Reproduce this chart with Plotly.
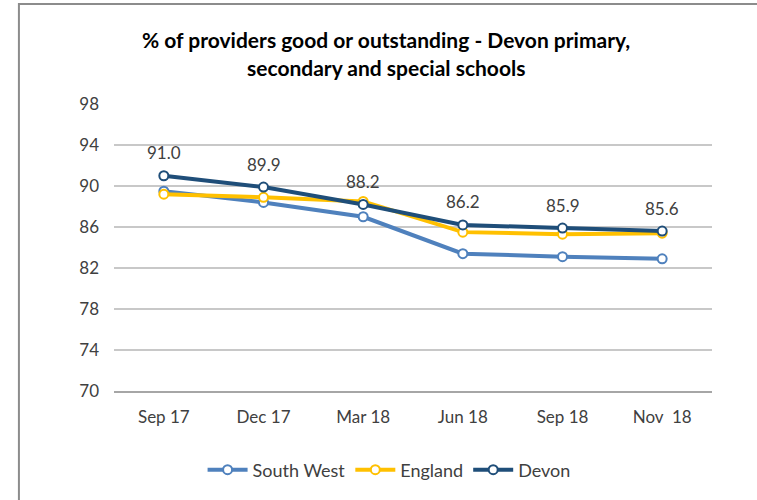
import plotly.graph_objects as go

# Inspection dates and share of providers rated good or outstanding (%)
periods = ["Sep 17", "Dec 17", "Mar 18", "Jun 18", "Sep 18", "Nov  18"]
south_west = [89.5, 88.4, 87.0, 83.4, 83.1, 82.9]
england = [89.2, 88.9, 88.5, 85.5, 85.3, 85.4]
devon = [91.0, 89.9, 88.2, 86.2, 85.9, 85.6]
y_ticks = [70, 74, 78, 82, 86, 90, 94, 98]
title_lines = ["% of providers good or outstanding - Devon primary,",
               "secondary and special schools"]

FONT = "Lato, Liberation Sans, sans-serif"

series = [
    ("South West", south_west, "#4F81BD"),
    ("England", england, "#FFC000"),
    ("Devon", devon, "#1F4E79"),
]

fig = go.Figure()
for name, values, color in series:
    fig.add_trace(go.Scatter(
        x=periods, y=values, name=name, mode="lines+markers",
        line=dict(color=color, width=4),
        marker=dict(symbol="circle", size=9, color="white",
                    line=dict(color=color, width=2)),
        hoverinfo="x+y+name",
    ))

# Value labels above the Devon series
for p, v in zip(periods, devon):
    fig.add_annotation(x=p, y=v, text=f"{v:.1f}", showarrow=False,
                       yshift=23, font=dict(family=FONT, size=17, color="#404040"))

# Two-line bold title
for line, ypos in zip(title_lines, [1.2230, 1.1289]):
    fig.add_annotation(xref="paper", yref="paper", x=0.455, y=ypos,
                       xanchor="center", yanchor="middle", showarrow=False,
                       text=f"<b>{line}</b>",
                       font=dict(family=FONT, size=21, color="#000000"))

# Chart frame
fig.add_shape(type="rect", xref="paper", yref="paper",
              x0=-0.159, x1=1.08, y0=-0.40, y1=1.3484,
              line=dict(color="#8C8C8C", width=2), layer="below")

fig.update_layout(
    width=757, height=500,
    margin=dict(l=114, r=45, t=104, b=109),
    paper_bgcolor="white", plot_bgcolor="white",
    xaxis=dict(
        type="category", showgrid=False, showline=True,
        linecolor="#A6A6A6", linewidth=2, ticks="",
        ticklabelstandoff=10,
        tickfont=dict(family=FONT, size=17, color="#404040"),
        range=[-0.5, len(periods) - 0.5],
    ),
    yaxis=dict(
        range=[70, 98], tickvals=y_ticks, showgrid=True,
        gridcolor="#C8C8C8", gridwidth=2, zeroline=False, showline=False,
        ticks="", ticklabelstandoff=14,
        tickfont=dict(family=FONT, size=17, color="#404040"),
    ),
    legend=dict(
        orientation="h", x=0.46, xanchor="center", y=-0.2753, yanchor="middle",
        font=dict(family=FONT, size=18, color="#404040"),
        itemwidth=40, traceorder="normal",
    ),
    showlegend=True,
)

fig.write_html("out.html")
